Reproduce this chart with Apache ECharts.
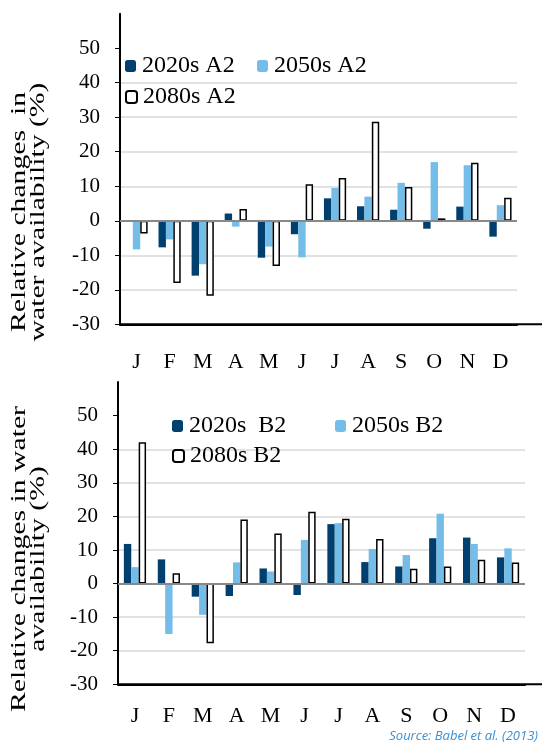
<!DOCTYPE html>
<html>
<head>
<meta charset="utf-8">
<script src="https://cdn.jsdelivr.net/npm/echarts@6/dist/echarts.min.js"></script>
<style>
html,body{margin:0;padding:0;background:#fff;}
#chart{width:542px;height:749px;}
</style>
</head>
<body>
<div id="chart"></div>
<script>
// ---- data ----
var months = ['J','F','M','A','M','J','J','A','S','O','N','D'];
var yTicks = [-30,-20,-10,0,10,20,30,40,50];

var a2_2020 = [0, -7.7, -15.9, 2.1, -10.7, -3.9, 6.5, 4.2, 3.2, -2.3, 4.1, -4.6];
var a2_2050 = [-8.3, -5.4, -12.6, -1.7, -7.5, -10.6, 9.5, 7.0, 11.0, 17.0, 16.1, 4.5];
var a2_2080 = [-3.7, -18.0, -21.7, 3.4, -13.1, 10.6, 12.4, 28.7, 9.8, 0.7, 16.8, 6.7];

var b2_2020 = [11.8, 7.2, -3.9, -3.7, 4.5, -3.4, 17.7, 6.4, 5.1, 13.5, 13.7, 7.8];
var b2_2050 = [4.9, -15.0, -9.3, 6.3, 3.6, 13.0, 18.0, 10.3, 8.5, 20.8, 11.8, 10.5];
var b2_2080 = [42.1, 3.1, -17.8, 19.1, 14.9, 21.4, 19.3, 13.3, 4.4, 5.1, 7.1, 6.3];

var namesA = ['2020s A2', '2050s A2', '2080s A2'];
var namesB = ['2020s  B2', '2050s B2', '2080s B2'];

// ---- styles ----
var NAVY = '#003f6e';
var LIGHT = '#74bde9';
var FONT = '"Liberation Serif", "Times New Roman", serif';

var grids = [
  {left: 120, top: 13.7, width: 397, height: 310.6},
  {left: 118, top: 382.1, width: 407, height: 302.2}
];

var chart = echarts.init(document.getElementById('chart'));

function xAxisFor(gi, margin) {
  return {
    type: 'category', gridIndex: gi, data: months,
    axisLine: {show: true, onZero: false, lineStyle: {color: '#000', width: 2}},
    axisTick: {show: false},
    axisLabel: {color: '#000', fontFamily: FONT, fontSize: 22, margin: margin},
    splitLine: {show: false}
  };
}
function yAxisFor(gi) {
  return {
    type: 'value', gridIndex: gi, min: -30, max: 60, interval: 10,
    axisLine: {show: true, onZero: false, lineStyle: {color: '#000', width: 2}},
    axisTick: {show: true, length: 5, inside: false, customValues: yTicks, lineStyle: {color: '#000', width: 1}},
    axisLabel: {color: '#000', fontFamily: FONT, fontSize: 21, margin: 20, customValues: yTicks},
    splitLine: {show: true, showMinLine: false, showMaxLine: false, lineStyle: {color: '#d9d9d9', width: 1.5}}
  };
}
function bars(names, d1, d2, d3, gi) {
  var zeroLine = {
    silent: true, symbol: 'none', label: {show: false},
    lineStyle: {color: '#888', width: 2, type: 'solid'},
    data: [{yAxis: 0}], animation: false
  };
  return [
    {name: names[0], type: 'bar', xAxisIndex: gi, yAxisIndex: gi, data: d1, barWidth: 7.4, barGap: '0%',
     itemStyle: {color: NAVY}, markLine: zeroLine, z: 2},
    {name: names[1], type: 'bar', xAxisIndex: gi, yAxisIndex: gi, data: d2, barWidth: 7.4, barGap: '0%',
     itemStyle: {color: LIGHT}, z: 2},
    {name: names[2], type: 'bar', xAxisIndex: gi, yAxisIndex: gi, data: d3, barWidth: 7.4, barGap: '0%',
     itemStyle: {color: '#fff', borderColor: '#000', borderWidth: 1.5}, z: 2}
  ];
}
function leg(name, left, top) {
  return {
    data: [name], left: left, top: top, orient: 'horizontal',
    itemWidth: 11, itemHeight: 12, itemGap: 0, padding: 0,
    textStyle: {color: '#000', fontFamily: FONT, fontSize: 24, padding: [0, 0, 0, 1]},
    selectedMode: false
  };
}
function baseLine(g) {
  var y = g.top + g.height;
  return {type: 'line', z: 10, shape: {x1: g.left - 1, y1: y, x2: 542, y2: y},
          style: {stroke: '#000', lineWidth: 2}};
}

var option = {
  animation: false,
  backgroundColor: '#fff',
  grid: grids,
  xAxis: [xAxisFor(0, 27), xAxisFor(1, 21)],
  yAxis: [yAxisFor(0), yAxisFor(1)],
  legend: [
    leg(namesA[0], 125, 54),
    leg(namesA[1], 257, 54),
    leg(namesA[2], 125, 85),
    leg(namesB[0], 172, 414),
    leg(namesB[1], 335, 414),
    leg(namesB[2], 172, 444)
  ],
  series: bars(namesA, a2_2020, a2_2050, a2_2080, 0).concat(bars(namesB, b2_2020, b2_2050, b2_2080, 1)),
  graphic: [
    {type: 'text', x: 29, y: 212, rotation: Math.PI / 2, scaleX: 1.35,
     style: {text: 'Relative changes  in\nwater availability (%)', fontFamily: FONT, fontSize: 22, lineHeight: 19,
             align: 'center', verticalAlign: 'middle', fill: '#000'}},
    {type: 'text', x: 29, y: 559, rotation: Math.PI / 2, scaleX: 1.35,
     style: {text: 'Relative changes in water\navailability (%)', fontFamily: FONT, fontSize: 22, lineHeight: 19,
             align: 'center', verticalAlign: 'middle', fill: '#000'}},
    baseLine(grids[0]),
    baseLine(grids[1]),
    {type: 'text', right: 4, top: 730,
     style: {text: 'Source: Babel et al. (2013)', fontFamily: '"Open Sans", "Noto Sans", sans-serif', fontStyle: 'italic',
             fontSize: 13, fill: '#3b8fd0'}}
  ]
};
chart.setOption(option);
</script>
</body>
</html>
